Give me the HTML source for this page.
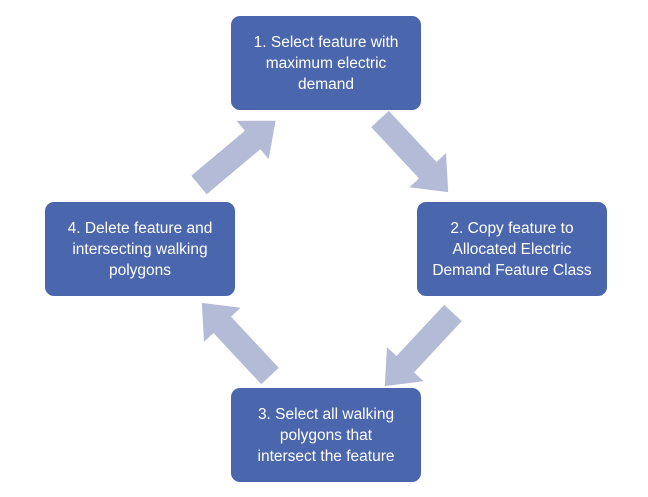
<!DOCTYPE html>
<html><head><style>
body{margin:0;width:648px;height:497px;background:#fff;position:relative;overflow:hidden;font-family:"Liberation Sans",sans-serif}
.b{position:absolute;width:190px;height:94px;background:#4a66ac;border-radius:9px;color:#fff;font-size:15.5px;line-height:21px;display:flex;align-items:center;justify-content:center;text-align:center}
svg{position:absolute;left:0;top:0}
</style></head><body>
<svg width="648" height="497">
<defs><polygon id="a" points="0,-12 70,-12 70,-25 100,0 70,25 70,12 0,12" fill="#b3bbd7"/></defs>
<use href="#a" transform="translate(380,119) rotate(47)"/>
<use href="#a" transform="translate(453,313) rotate(133)"/>
<use href="#a" transform="translate(270,376) rotate(-133)"/>
<use href="#a" transform="translate(199,185) rotate(-40)"/>
</svg>
<div class="b" style="left:231px;top:16px">1. Select feature with<br>maximum electric<br>demand</div>
<div class="b" style="left:417px;top:202px">2. Copy feature to<br>Allocated Electric<br>Demand Feature Class</div>
<div class="b" style="left:231px;top:388px">3. Select all walking<br>polygons that<br>intersect the feature</div>
<div class="b" style="left:45px;top:202px">4. Delete feature and<br>intersecting walking<br>polygons</div>
</body></html>
